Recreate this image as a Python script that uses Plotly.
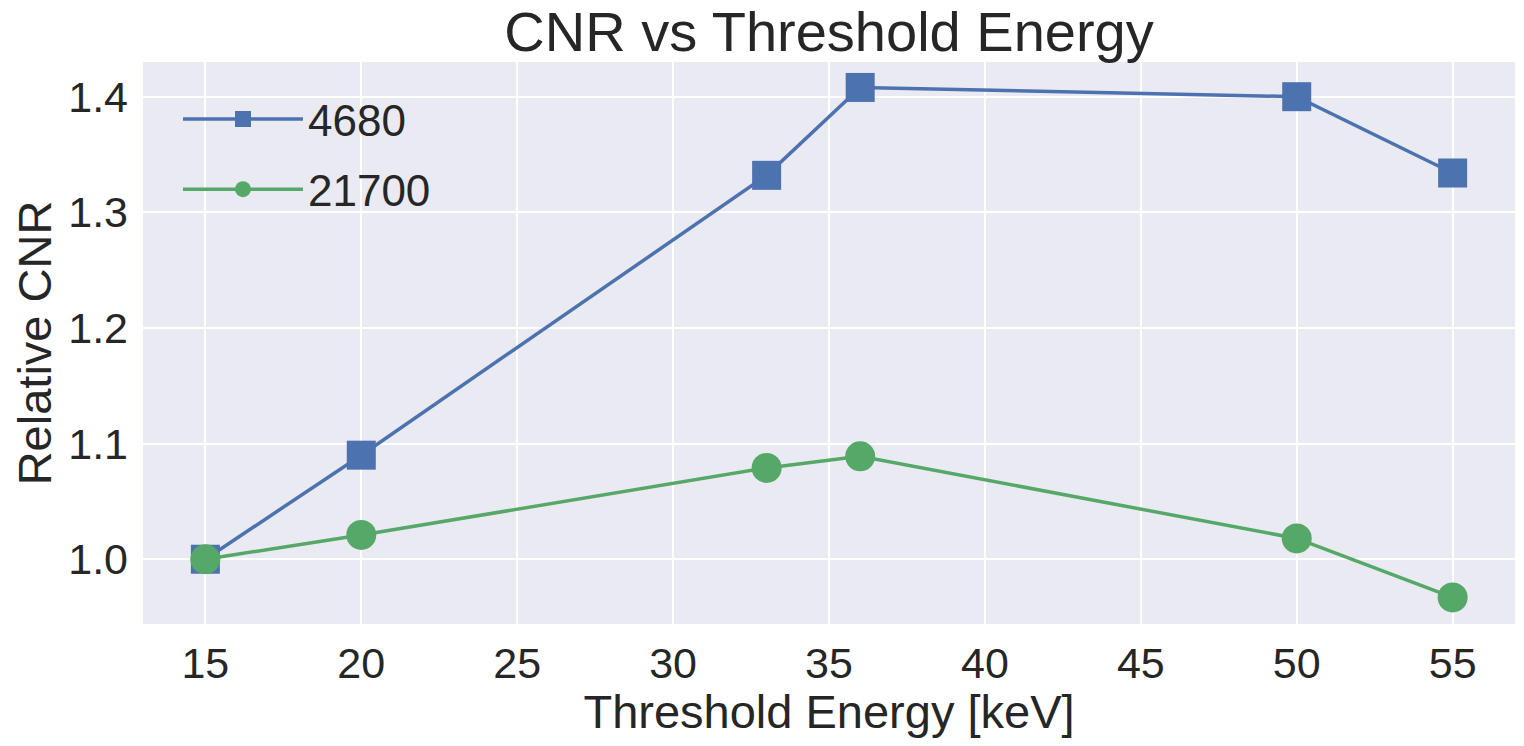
import plotly.graph_objects as go

energy = [15, 20, 33, 36, 50, 55]
cnr_4680 = [1.000, 1.090, 1.332, 1.408, 1.400, 1.334]
cnr_21700 = [1.000, 1.021, 1.079, 1.089, 1.018, 0.967]
series_names = ["4680", "21700"]
x_ticks = [15, 20, 25, 30, 35, 40, 45, 50, 55]
y_ticks = [1.0, 1.1, 1.2, 1.3, 1.4]

FONT = "Liberation Sans, Arial, sans-serif"
TXT = "#262626"

fig = go.Figure()
fig.add_trace(go.Scatter(
    x=energy, y=cnr_4680, name=series_names[0], mode="lines+markers",
    line=dict(color="#4C72B0", width=3.5),
    marker=dict(symbol="square", size=29, color="#4C72B0"),
    legendgroup="a",
))
fig.add_trace(go.Scatter(
    x=energy, y=cnr_21700, name=series_names[1], mode="lines+markers",
    line=dict(color="#55A868", width=3.5),
    marker=dict(symbol="circle", size=30, color="#55A868"),
    legendgroup="b",
))

fig.update_layout(
    width=1508, height=730,
    margin=dict(l=135, r=1, t=54, b=114),
    paper_bgcolor="white", plot_bgcolor="#EAEAF2",
    font=dict(family=FONT, color=TXT),
    title=dict(text="CNR vs Threshold Energy", x=0.5, xref="paper", xanchor="center",
               yref="container", y=1 - 23 / 730, yanchor="middle",
               font=dict(size=56, color=TXT)),
    xaxis=dict(range=[13, 57], tickvals=x_ticks, showgrid=True, gridcolor="white", gridwidth=2,
               zeroline=False, showline=False, ticks="", ticklabelstandoff=10,
               tickfont=dict(size=43, color=TXT),
               title=dict(text="Threshold Energy [keV]", font=dict(size=47, color=TXT), standoff=2)),
    yaxis=dict(range=[0.944, 1.430], tickvals=y_ticks, tickformat=".1f", showgrid=True,
               gridcolor="white", gridwidth=2, zeroline=False, showline=False, ticks="",
               ticklabelstandoff=14, tickfont=dict(size=43, color=TXT),
               title=dict(text="Relative CNR", font=dict(size=47, color=TXT), standoff=22)),
    legend=dict(x=0.0255, y=0.961, xanchor="left", yanchor="top", bgcolor="rgba(0,0,0,0)",
                font=dict(size=44, color=TXT), itemwidth=120, tracegroupgap=10,
                itemsizing="trace"),
    showlegend=True,
)

fig.write_html("out.html")
